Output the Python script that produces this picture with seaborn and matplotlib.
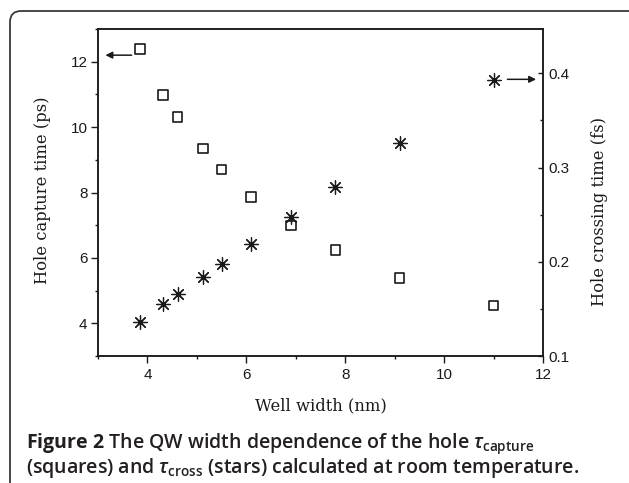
import matplotlib
matplotlib.use("Agg")
import matplotlib.pyplot as plt
import matplotlib.patches as mpatches
import matplotlib.transforms as mtransforms
from matplotlib.ticker import MultipleLocator, FixedLocator
import seaborn as sns
import pandas as pd

# ---- data ----
well_width = [3.85, 4.31, 4.61, 5.12, 5.50, 6.10, 6.90, 7.80, 9.10, 11.00]
capture_ps = [12.39, 10.98, 10.30, 9.34, 8.70, 7.86, 6.99, 6.24, 5.39, 4.55]
crossing_fs = [0.136, 0.155, 0.1655, 0.1835, 0.198, 0.2186, 0.248, 0.279, 0.3265, 0.393]

x_ticks = [4, 6, 8, 10, 12]
left_ticks = [4, 6, 8, 10, 12]
right_ticks = [0.1, 0.2, 0.3, 0.4]

xlabel = "Well width (nm)"
ylabel_left = "Hole capture time (ps)"
ylabel_right = "Hole crossing time (fs)"
caption1 = r"$\mathbf{Figure\ 2}$ The QW width dependence of the hole $\tau_{\mathrm{capture}}$"
caption2 = r"(squares) and $\tau_{\mathrm{cross}}$ (stars) calculated at room temperature."

df = pd.DataFrame({"w": well_width, "cap": capture_ps, "cross": crossing_fs})

sns.set_style("ticks")
plt.rcParams["mathtext.fontset"] = "custom"
plt.rcParams["mathtext.rm"] = "Open Sans:semibold"
plt.rcParams["mathtext.it"] = "Open Sans:italic:semibold"
plt.rcParams["mathtext.bf"] = "Open Sans:bold"

W, H = 629, 483
fig = plt.figure(figsize=(W / 100, H / 100), dpi=100)
fig.patch.set_facecolor("white")

# axes in pixel geometry: left 98, right 543, top 29, bottom 356
l, r, t, b = 98, 543, 29, 356
ax = fig.add_axes([l / W, 1 - b / H, (r - l) / W, (b - t) / H])
ax2 = ax.twinx()

ink = "#1a1a1a"

sns.scatterplot(data=df, x="w", y="cap", ax=ax, marker="s", s=48,
                facecolors="none", edgecolor=ink, linewidth=1.2, zorder=3)
sns.scatterplot(data=df, x="w", y="cross", ax=ax2, marker=(8, 2, 0), s=95,
                color=ink, edgecolor=ink, linewidth=0.9, zorder=3)

ax.set_xlim(3, 12)
ax.set_ylim(3, 13)
ax2.set_ylim(0.1, 0.447)

ax.xaxis.set_major_locator(FixedLocator(x_ticks))
ax.xaxis.set_minor_locator(MultipleLocator(1))
ax.yaxis.set_major_locator(FixedLocator(left_ticks))
ax.yaxis.set_minor_locator(MultipleLocator(1))
ax2.yaxis.set_major_locator(FixedLocator(right_ticks))
ax2.yaxis.set_minor_locator(MultipleLocator(0.05))
ax.set_xticklabels([str(v) for v in x_ticks])
ax.set_yticklabels([str(v) for v in left_ticks])
ax2.set_yticklabels([f"{v:.1f}" for v in right_ticks])

for lab in ax.get_xticklabels() + ax.get_yticklabels() + ax2.get_yticklabels():
    lab.set_fontfamily("Liberation Sans")
    lab.set_fontsize(11)
    lab.set_color(ink)

ax.tick_params(axis="both", which="major", direction="out", length=5, width=1.0,
               color=ink, pad=2.5)
ax.tick_params(axis="both", which="minor", direction="out", length=2.5, width=1.0,
               color=ink)
ax.tick_params(axis="x", which="major", pad=3.5)
ax2.tick_params(axis="y", which="major", direction="in", length=3.5, width=1.0,
                color=ink, pad=4)
ax2.tick_params(axis="y", which="minor", direction="in", length=2, width=1.0,
                color=ink)

for a in (ax, ax2):
    for s in a.spines.values():
        s.set_visible(True)
        s.set_linewidth(1.1)
        s.set_color(ink)

ax.set_xlabel("")
ax.set_ylabel("")
ax2.set_ylabel("")

label_font = dict(family="DejaVu Serif", size=11.8, color=ink)
fig.text(321 / W, 1 - 410 / H, xlabel, ha="center", va="baseline", **label_font)
fig.text(43 / W, 1 - 190 / H, ylabel_left, rotation=90, ha="center", va="center",
         **label_font)
fig.text(599 / W, 1 - 212 / H, ylabel_right, rotation=90, ha="center", va="center",
         **label_font)

# arrows indicating axes
ax.annotate("", xy=(3.15, 12.2), xytext=(3.68, 12.2),
            arrowprops=dict(arrowstyle="-|>", color=ink, lw=1.1,
                            mutation_scale=10, shrinkA=0, shrinkB=0))
ax2.annotate("", xy=(11.86, 0.3936), xytext=(11.28, 0.3936),
             arrowprops=dict(arrowstyle="-|>", color=ink, lw=1.1,
                             mutation_scale=10, shrinkA=0, shrinkB=0))

# caption
cap_font = dict(family="Open Sans", size=14, weight="semibold", color="#231f20")
fig.text(26 / W, 1 - 448 / H, caption1, ha="left", va="baseline", **cap_font)
fig.text(26 / W, 1 - 473 / H, caption2, ha="left", va="baseline", **cap_font)

# rounded frame
frame = mpatches.FancyBboxPatch((10, -40), 700, H - 11 + 40,
                                boxstyle="round,pad=0,rounding_size=11",
                                transform=mtransforms.IdentityTransform(),
                                facecolor="none", edgecolor="#3a3a3a", lw=1.3)
fig.patches.append(frame)

fig.savefig("out.png", dpi=100)
